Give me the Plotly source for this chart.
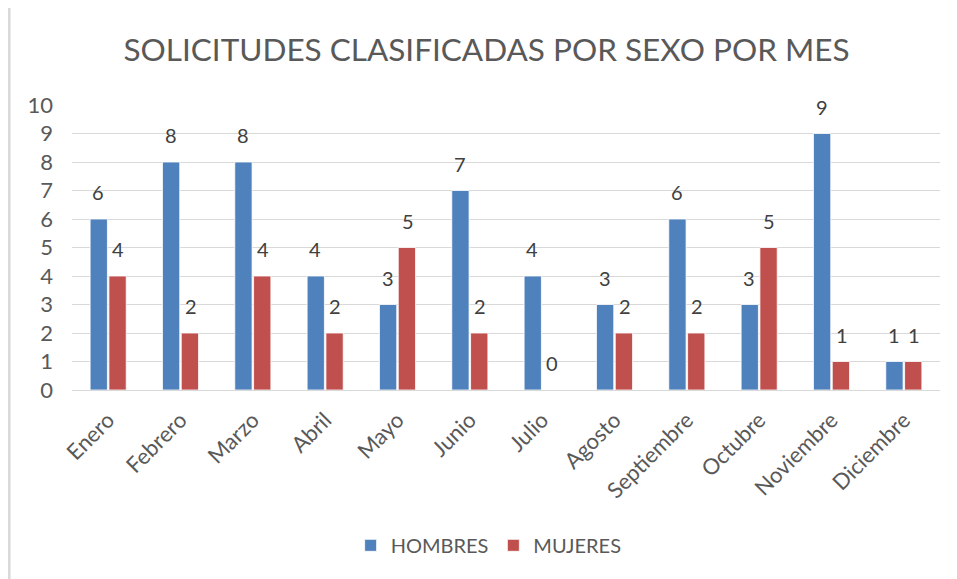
import plotly.graph_objects as go

meses = ["Enero", "Febrero", "Marzo", "Abril", "Mayo", "Junio", "Julio",
         "Agosto", "Septiembre", "Octubre", "Noviembre", "Diciembre"]
hombres = [6, 8, 8, 4, 3, 7, 4, 3, 6, 3, 9, 1]
mujeres = [4, 2, 4, 2, 5, 2, 0, 2, 2, 5, 1, 1]

FONT = "Lato"
TXT = "#595959"

fig = go.Figure()
fig.add_trace(go.Bar(x=meses, y=hombres, name="HOMBRES",
                     marker=dict(color="#4F81BD", line=dict(color="#FFFFFF", width=0.8))))
fig.add_trace(go.Bar(x=meses, y=mujeres, name="MUJERES",
                     marker=dict(color="#C0504D", line=dict(color="#FFFFFF", width=0.8))))

annotations = []
for serie, shift in ((hombres, -10), (mujeres, 10)):
    for m, v in zip(meses, serie):
        annotations.append(dict(x=m, y=v, xref="x", yref="y", text=str(v),
                                showarrow=False, xshift=shift, yshift=27,
                                yanchor="middle", xanchor="center",
                                font=dict(size=20, color="#404040", family=FONT)))

fig.update_layout(
    width=957, height=579,
    paper_bgcolor="white", plot_bgcolor="white",
    font=dict(family=FONT, color=TXT),
    title=dict(text="SOLICITUDES CLASIFICADAS POR SEXO POR MES",
               x=0.5, xanchor="center", y=0.9275, yanchor="middle",
               font=dict(size=31.5, color=TXT, family=FONT)),
    margin=dict(l=64, r=25, t=97, b=197, autoexpand=False),
    barmode="group", bargap=0.48, bargroupgap=0.08,
    showlegend=True,
    legend=dict(orientation="h", x=0.48, xanchor="center", y=-0.545, yanchor="middle",
                font=dict(size=20, color=TXT, family=FONT)),
    xaxis=dict(tickangle=-45, tickfont=dict(size=22, color=TXT), showline=False,
               showgrid=False, ticks="", automargin=False, ticklabelstandoff=12),
    yaxis=dict(range=[0, 10], dtick=1, showgrid=True, gridcolor="#D9D9D9",
               zeroline=True, zerolinecolor="#D9D9D9", zerolinewidth=1,
               tickfont=dict(size=22, color=TXT), ticks="", ticklabelstandoff=18,
               automargin=False),
    annotations=annotations,
    shapes=[dict(type="line", xref="paper", yref="paper",
                 x0=-0.0725, x1=-0.0725, y0=-0.7, y1=1.4,
                 line=dict(color="#D9D9D9", width=3))],
)

fig.write_html("out.html")
